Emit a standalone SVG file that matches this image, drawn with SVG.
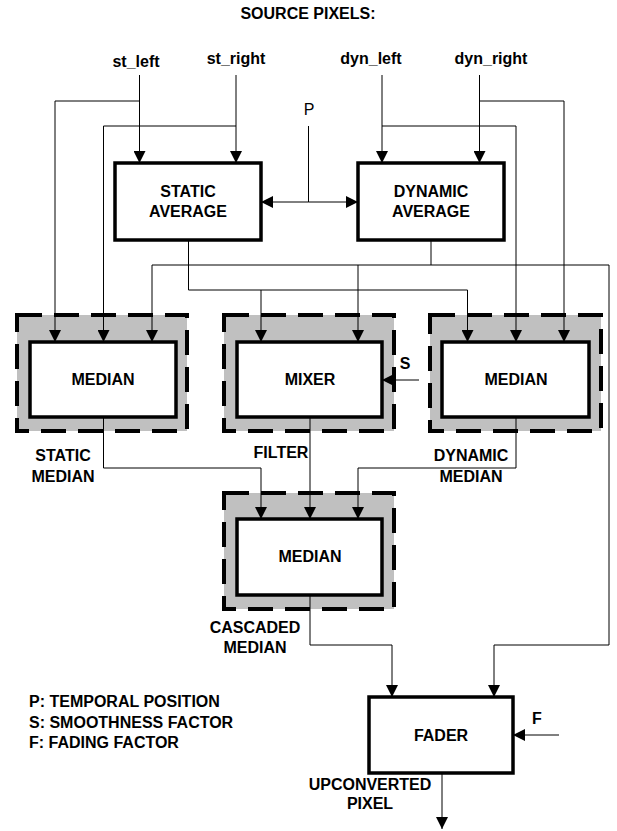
<svg xmlns="http://www.w3.org/2000/svg" width="617" height="831" viewBox="0 0 617 831">
<style>
text{font-family:"Liberation Sans",Arial,sans-serif;font-weight:bold;font-size:16px;fill:#000}
.c{text-anchor:middle}
.reg{font-weight:normal}
.box{fill:#fff;stroke:#000;stroke-width:3.5}
.grp{fill:#c0c0c0;stroke:#000;stroke-width:4;stroke-dasharray:25 12}
.ln{fill:none;stroke:#000;stroke-width:1}
.ar{fill:none;stroke:#000;stroke-width:1;marker-end:url(#ah)}
</style>
<defs>
<marker id="ah" viewBox="0 0 12 12" refX="12" refY="6" markerWidth="12" markerHeight="12" markerUnits="userSpaceOnUse" orient="auto-start-reverse">
<path d="M0,0 L12,6 L0,12 Z" fill="#000"/>
</marker>
</defs>
<text class="c" x="308" y="19">SOURCE PIXELS:</text>
<g id="in_st_left"><text class="c" x="136" y="67">st_left</text></g>
<g id="in_st_right"><text class="c" x="236" y="64">st_right</text></g>
<g id="in_dyn_left"><text class="c" x="371" y="64">dyn_left</text></g>
<g id="in_dyn_right"><text class="c" x="491" y="64">dyn_right</text></g>
<g id="in_p"><text class="c reg" x="309" y="115">P</text></g>

<g id="static_avg"><rect class="box" x="115" y="163" width="146" height="77"/><text class="c" x="188" y="197">STATIC</text><text class="c" x="188" y="217">AVERAGE</text></g>
<g id="dynamic_avg"><rect class="box" x="358" y="163" width="146" height="77"/><text class="c" x="431" y="197">DYNAMIC</text><text class="c" x="431" y="217">AVERAGE</text></g>

<g id="static_median"><rect class="grp" x="17" y="315" width="170" height="116"/><rect class="box" x="30" y="342" width="146" height="75"/><text class="c" x="103" y="385">MEDIAN</text></g>
<g id="mixer"><rect class="grp" x="224" y="315" width="170" height="116"/><rect class="box" x="237" y="342" width="145" height="75"/><text class="c" x="310" y="385">MIXER</text></g>
<g id="dynamic_median"><rect class="grp" x="430" y="315" width="171" height="116"/><rect class="box" x="442" y="342" width="147" height="75"/><text class="c" x="516" y="385">MEDIAN</text></g>
<g id="cascaded_median"><rect class="grp" x="224" y="493" width="170" height="116"/><rect class="box" x="237" y="519" width="145" height="76"/><text class="c" x="310" y="562">MEDIAN</text></g>
<g id="fader"><rect class="box" x="369" y="697" width="144" height="76"/><text class="c" x="441" y="741">FADER</text></g>

<g id="labels">
<text class="c" x="63" y="461">STATIC</text><text class="c" x="63" y="482">MEDIAN</text>
<text class="c" x="281" y="458">FILTER</text>
<text class="c" x="471" y="461">DYNAMIC</text><text class="c" x="471" y="482">MEDIAN</text>
<text class="c" x="255" y="633">CASCADED</text><text class="c" x="255" y="653">MEDIAN</text>
<text class="c" x="405" y="369">S</text>
<text class="c" x="537" y="724">F</text>
<text class="c" x="370" y="790">UPCONVERTED</text><text class="c" x="370" y="809">PIXEL</text>
<text x="29" y="707">P: TEMPORAL POSITION</text>
<text x="29" y="728">S: SMOOTHNESS FACTOR</text>
<text x="29" y="748">F: FADING FACTOR</text>
</g>

<g id="connectors">
<path class="ar" d="M139.5,75 V163"/>
<path class="ar" d="M139.5,101 H55 V342"/>
<path class="ar" d="M236,75 V163"/>
<path class="ar" d="M236,126 H103.5 V342"/>
<path class="ar" d="M382,75 V163"/>
<path class="ar" d="M382,126 H516 V342"/>
<path class="ar" d="M479.5,75 V163"/>
<path class="ar" d="M479.5,101 H564 V342"/>
<path class="ln" d="M308.5,126 V202"/>
<path class="ar" d="M308.5,202 H261"/>
<path class="ar" d="M308.5,202 H358"/>
<path class="ar" d="M188.5,240 V290 H467.5 V342"/>
<path class="ar" d="M261,290 V342"/>
<path class="ln" d="M431,240 V265"/>
<path class="ar" d="M152,265 H609 V645 H494 V697"/>
<path class="ar" d="M152,265 V342"/>
<path class="ar" d="M358,265 V342"/>
<path class="ar" d="M419,380 H382"/>
<path class="ar" d="M103.5,417 V468 H261 V519"/>
<path class="ar" d="M310,417 V519"/>
<path class="ar" d="M516,417 V468 H358 V519"/>
<path class="ar" d="M310,595 V645 H392 V697"/>
<path class="ar" d="M559,735 H513"/>
<path class="ar" d="M442,773 V829"/>
</g>
</svg>
